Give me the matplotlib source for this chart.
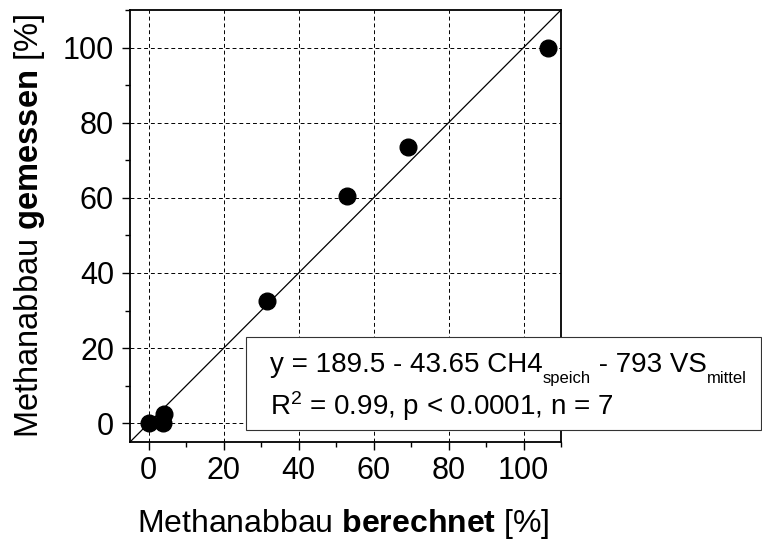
import matplotlib
matplotlib.use("Agg")
import matplotlib.pyplot as plt
from matplotlib.patches import Rectangle
from matplotlib.ticker import MultipleLocator

plt.rcParams['font.family'] = ['Liberation Sans', 'DejaVu Sans']
plt.rcParams['mathtext.fontset'] = 'custom'
plt.rcParams['mathtext.rm'] = 'Liberation Sans'
plt.rcParams['mathtext.bf'] = 'Liberation Sans:bold'
plt.rcParams['mathtext.it'] = 'Liberation Sans:italic'

# Daten
berechnet = [0, 3.7, 4.0, 31.6, 52.9, 69.3, 106.4]
gemessen = [0, 0, 2.5, 32.6, 60.6, 73.6, 100]
achse = [-5, 110]

# Regressionsgleichung: (Text, tiefgestellt?)
gleichung = [("y = 189.5 - 43.65 CH4", False), ("speich", True),
             (" - 793 VS", False), ("mittel", True)]
statistik = r"R$^2$ = 0.99, p < 0.0001, n = 7"

W, H = 762, 540
fig = plt.figure(figsize=(W / 100, H / 100), dpi=100)
ax = fig.add_axes([130 / W, 1 - 442 / H, 431 / W, 432 / H])

ax.set_xlim(achse)
ax.set_ylim(achse)

# Gitter
ax.grid(True, which='major', color='black', linestyle=(0, (4, 3)), linewidth=0.7, zorder=0)
ax.set_axisbelow(True)

# 1:1 Linie
ax.plot(achse, achse, color='black', linewidth=0.9, zorder=2)

# Punkte
ax.plot(berechnet, gemessen, 'o', color='black', markersize=12, zorder=3, clip_on=False)

ax.xaxis.set_major_locator(MultipleLocator(20))
ax.xaxis.set_minor_locator(MultipleLocator(10))
ax.yaxis.set_major_locator(MultipleLocator(20))
ax.yaxis.set_minor_locator(MultipleLocator(10))
ax.tick_params(which='both', direction='out', top=False, right=False, width=1.0)
ax.tick_params(which='major', length=6, labelsize=22)
ax.tick_params(axis='x', which='major', pad=4)
ax.tick_params(axis='y', which='major', pad=5.5)
ax.tick_params(which='minor', length=3.5)
for s in ax.spines.values():
    s.set_linewidth(1.3)

fig.text(30 / W, 1 - 226 / H, r"Methanabbau $\mathbf{gemessen}$ [%]",
         rotation=90, ha='center', va='center', fontsize=23.5)
fig.text(343 / W, 1 - 532 / H, r"Methanabbau $\mathbf{berechnet}$ [%]",
         ha='center', va='baseline', fontsize=23)

# Textbox
box = Rectangle((246 / W, 1 - 430 / H), 515 / W, 93 / H,
                transform=fig.transFigure, facecolor='white',
                edgecolor='#333333', linewidth=0.8, zorder=5)
fig.add_artist(box)

renderer = fig.canvas.get_renderer()
x = 270
for teil, tief in gleichung:
    y = 383 if tief else 372
    t = fig.text(x / W, 1 - y / H, teil, ha='left', va='baseline',
                 fontsize=12 if tief else 20, zorder=6)
    x = t.get_window_extent(renderer).x1

fig.text(270 / W, 1 - 415 / H, statistik,
         ha='left', va='baseline', fontsize=20, zorder=6)

fig.savefig("out.png", dpi=100)
